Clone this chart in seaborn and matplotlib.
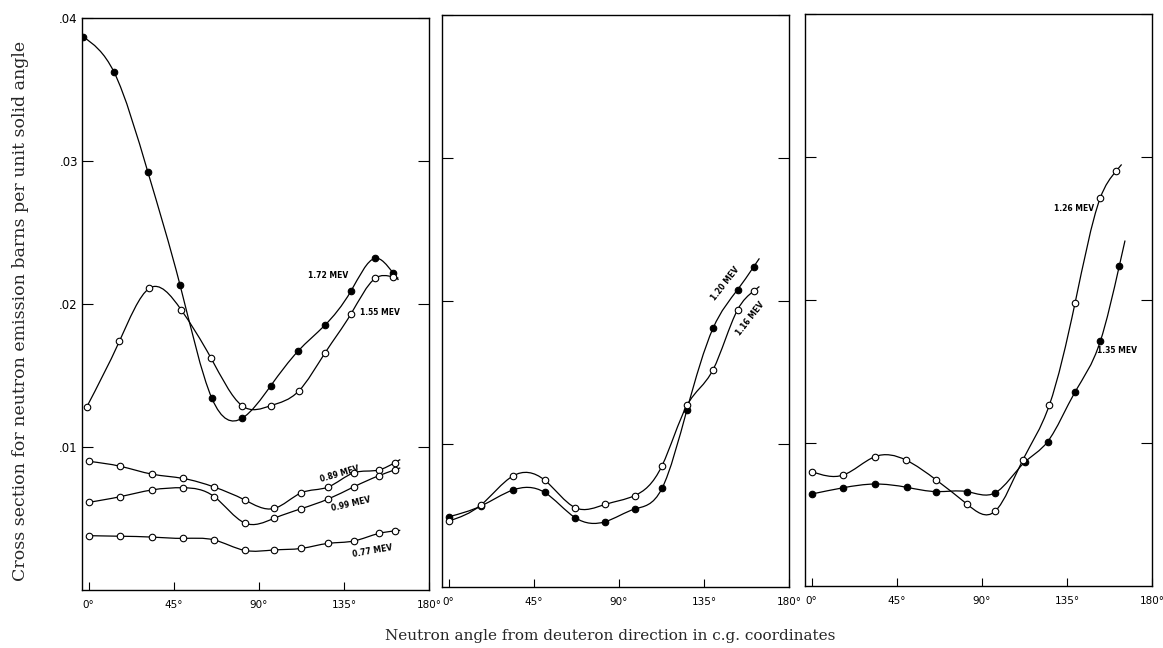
import numpy as np
import pandas as pd
import matplotlib
matplotlib.use('Agg')
import matplotlib.pyplot as plt
from matplotlib.path import Path
from matplotlib.patches import PathPatch
import seaborn as sns

# c.g. angles (deg) and cross sections (barns / sr)
ang_172 = [-3, 13.5, 31.4, 48.4, 65.2, 81, 96.4, 110.7, 124.8, 138.7, 151.6, 160.8]
xs_172 = [0.0387, 0.0362, 0.0292, 0.0213, 0.0134, 0.0120, 0.0143, 0.0167, 0.0185, 0.0209, 0.0232, 0.0222]
ang_155 = [-1, 16.3, 32.1, 48.9, 64.8, 81, 96.5, 111, 125.1, 138.7, 151.6, 160.8]
xs_155 = [0.0128, 0.0174, 0.0211, 0.0196, 0.0162, 0.0129, 0.0129, 0.0139, 0.0166, 0.0193, 0.0218, 0.0219]

ang_low = [0, 16.8, 33.6, 50.1, 66.4, 82.5, 98, 112.5, 126.6, 140.3, 153.6, 161.8]
xs_089 = [0.0090, 0.00865, 0.0081, 0.0078, 0.0072, 0.0063, 0.0057, 0.0068, 0.0072, 0.0082, 0.0084, 0.0089]
xs_099 = [0.00613, 0.00653, 0.0070, 0.00715, 0.00653, 0.00469, 0.00501, 0.00569, 0.00636, 0.00722, 0.0080, 0.0084]
xs_077 = [0.0038, 0.00376, 0.0037, 0.00361, 0.0035, 0.00277, 0.0028, 0.00291, 0.00326, 0.00343, 0.00396, 0.00413]

ang_mid = [0.2, 17, 33.9, 50.7, 66.9, 82.8, 98.3, 112.8, 126, 139.8, 152.8, 161.3]
xs_120 = [0.00492, 0.00566, 0.00678, 0.00662, 0.00485, 0.00457, 0.00545, 0.0069, 0.0124, 0.0181, 0.0208, 0.0224]
xs_116 = [0.00462, 0.00573, 0.00776, 0.00748, 0.00555, 0.00578, 0.00639, 0.00848, 0.0127, 0.0152, 0.0194, 0.0207]

ang_126 = [0, 16.7, 33.4, 49.8, 66, 82.1, 97.1, 111.7, 125.7, 139.3, 152.5, 160.9]
xs_126 = [0.0080, 0.00776, 0.00904, 0.00881, 0.0074, 0.00573, 0.00524, 0.00883, 0.01266, 0.0198, 0.0271, 0.0290]
ang_135 = [0, 16.7, 33.4, 50.3, 66, 82.1, 97.1, 112.6, 124.8, 139.4, 152.6, 162.7]
xs_135 = [0.00643, 0.00687, 0.00713, 0.0069, 0.0066, 0.0066, 0.00652, 0.00865, 0.0101, 0.0136, 0.0171, 0.0224]

angle_ticks = [0, 45, 90, 135, 180]
angle_labels = ['0°', '45°', '90°', '135°', '180°']
xs_ticks = [0.01, 0.02, 0.03, 0.04]
xs_labels = ['.01', '.02', '.03', '.04']

# panel, energy label, angles, values, filled marker
series = [
    (0, '1.72 MEV', ang_172, xs_172, True),
    (0, '1.55 MEV', ang_155, xs_155, False),
    (0, '0.89 MEV', ang_low, xs_089, False),
    (0, '0.99 MEV', ang_low, xs_099, False),
    (0, '0.77 MEV', ang_low, xs_077, False),
    (1, '1.20 MEV', ang_mid, xs_120, True),
    (1, '1.16 MEV', ang_mid, xs_116, False),
    (2, '1.26 MEV', ang_126, xs_126, False),
    (2, '1.35 MEV', ang_135, xs_135, True),
]

# where the hand lettering sits: (angle, value, rotation)
label_pos = {
    '1.72 MEV': (126.5, 0.0220, 0),
    '1.55 MEV': (154, 0.0194, 0),
    '0.89 MEV': (133, 0.0081, 16),
    '0.99 MEV': (138.5, 0.0060, 13),
    '0.77 MEV': (150, 0.0027, 10),
    '1.20 MEV': (146.5, 0.0212, 52),
    '1.16 MEV': (159.5, 0.0188, 52),
    '1.26 MEV': (139, 0.0264, 0),
    '1.35 MEV': (161.5, 0.0165, 0),
}

df = pd.concat([
    pd.DataFrame({'panel': p, 'energy': e, 'angle': a, 'xsec': v, 'filled': f})
    for p, e, a, v, f in series
], ignore_index=True)


def smooth_path(x, y, tail=3.0):
    # natural cubic spline through the points, handed to matplotlib as Bezier segments
    x = np.asarray(x, float)
    y = np.asarray(y, float)
    n = len(x)
    h = np.diff(x)
    A = np.zeros((n, n))
    r = np.zeros(n)
    A[0, 0] = A[-1, -1] = 1
    for i in range(1, n - 1):
        A[i, i - 1] = h[i - 1]
        A[i, i] = 2 * (h[i - 1] + h[i])
        A[i, i + 1] = h[i]
        r[i] = 6 * ((y[i + 1] - y[i]) / h[i] - (y[i] - y[i - 1]) / h[i - 1])
    M = np.linalg.solve(A, r)
    d = np.empty(n)
    d[:-1] = (y[1:] - y[:-1]) / h - h * (2 * M[:-1] + M[1:]) / 6
    d[-1] = (y[-1] - y[-2]) / h[-1] + h[-1] * (M[-2] + 2 * M[-1]) / 6
    verts = [(x[0], y[0])]
    codes = [Path.MOVETO]
    for i in range(n - 1):
        verts += [(x[i] + h[i] / 3, y[i] + d[i] * h[i] / 3),
                  (x[i + 1] - h[i] / 3, y[i + 1] - d[i + 1] * h[i] / 3),
                  (x[i + 1], y[i + 1])]
        codes += [Path.CURVE4] * 3
    if tail:
        verts.append((x[-1] + tail, y[-1] + d[-1] * tail))
        codes.append(Path.LINETO)
    return Path(verts, codes)


sns.set_theme(style='white')
plt.rcParams['font.family'] = ['DejaVu Sans']

fig = plt.figure(figsize=(11.63, 6.48), dpi=100)
boxes = [
    [0.0705, 0.0895, 0.2984, 0.8827],
    [0.3801, 0.0941, 0.2984, 0.8827],
    [0.6922, 0.0957, 0.2984, 0.8827],
]
axes = [fig.add_axes(b) for b in boxes]

for i, ax in enumerate(axes):
    ax.set_xlim(-3.5, 180)
    ax.set_ylim(0, 0.04)
    for s in ax.spines.values():
        s.set_color('black')
        s.set_linewidth(1.0)

    sub = df[df.panel == i]
    for energy, g in sub.groupby('energy', sort=False):
        ax.add_patch(PathPatch(smooth_path(g.angle, g.xsec), fill=False,
                               edgecolor='black', linewidth=0.9, zorder=2))
        a, v, r = label_pos[energy]
        ax.text(a, v, energy, fontsize=5.5, fontweight='bold', rotation=r,
                ha='center', va='center', color='black')
    sns.scatterplot(data=sub[sub.filled], x='angle', y='xsec', ax=ax,
                    marker='o', s=22, color='black', edgecolor='black',
                    linewidth=0.8, zorder=3, legend=False)
    sns.scatterplot(data=sub[~sub.filled], x='angle', y='xsec', ax=ax,
                    marker='o', s=22, color='white', edgecolor='black',
                    linewidth=0.8, zorder=3, legend=False)

    ax.set_xticks(angle_ticks)
    ax.set_xticklabels(angle_labels, fontsize=7.5)
    ax.set_yticks(xs_ticks)
    if i == 0:
        ax.set_yticklabels(xs_labels, fontsize=8.5)
    else:
        ax.set_yticklabels([])
    ax.tick_params(axis='x', direction='in', length=6, width=0.8, pad=7,
                   bottom=True, colors='black')
    ax.tick_params(axis='y', direction='in', length=8, width=0.8, pad=3,
                   left=True, right=True, colors='black')
    ax.set_xlabel('')
    ax.set_ylabel('')

fig.text(0.018, 0.52, 'Cross section for neutron emission barns per unit solid angle',
         rotation=90, ha='center', va='center', fontsize=12.5,
         family=['DejaVu Serif'])
fig.text(0.525, 0.018, 'Neutron angle from deuteron direction in c.g. coordinates',
         ha='center', va='center', fontsize=11, family=['DejaVu Serif'])

fig.savefig('out.png', dpi=100)
